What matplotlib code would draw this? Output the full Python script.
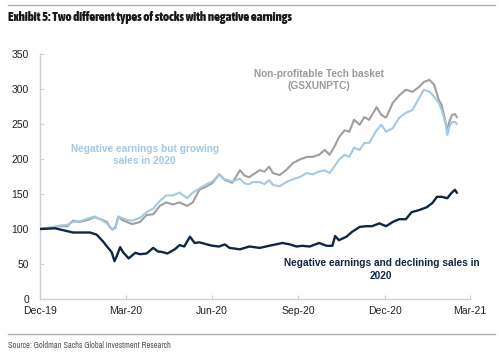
import matplotlib
matplotlib.use("Agg")
import matplotlib.pyplot as plt
import pandas as pd
from matplotlib import font_manager

# ---------------- data ----------------
common_dates = [
    "2019-12-31", "2020-01-11", "2020-01-21", "2020-01-29", "2020-02-04", "2020-02-11",
    "2020-02-20", "2020-02-27", "2020-03-06", "2020-03-11", "2020-03-14", "2020-03-17",
    "2020-03-20", "2020-03-23", "2020-03-27", "2020-04-01", "2020-04-07", "2020-04-15",
    "2020-04-22", "2020-04-29", "2020-05-06", "2020-05-13", "2020-05-20", "2020-05-27",
    "2020-06-04", "2020-06-10", "2020-06-17", "2020-06-25", "2020-07-01", "2020-07-08",
    "2020-07-14", "2020-07-22", "2020-07-30", "2020-08-04", "2020-08-09", "2020-08-12",
    "2020-08-20", "2020-08-25", "2020-08-30", "2020-09-03", "2020-09-10", "2020-09-17",
    "2020-09-24", "2020-10-01", "2020-10-09", "2020-10-15", "2020-10-22", "2020-10-28",
    "2020-11-02", "2020-11-07", "2020-11-12", "2020-11-18", "2020-11-23", "2020-11-28",
    "2020-12-04", "2020-12-09", "2020-12-14", "2020-12-22", "2020-12-27", "2021-01-01",
    "2021-01-08", "2021-01-15", "2021-01-22", "2021-01-29", "2021-02-05", "2021-02-10",
    "2021-02-16", "2021-02-21", "2021-02-26", "2021-03-01", "2021-03-05", "2021-03-07",
    "2021-03-09", "2021-03-12", "2021-03-15", "2021-03-17",
]
nonprofit_tech = [
    100, 102, 104, 104, 112, 110, 113, 117, 113, 110, 103, 99,
    103, 118, 113, 110, 107, 110, 120, 121, 133, 138, 135, 138,
    133, 138, 156, 161, 166, 178, 170, 166, 184, 176, 174, 177,
    184, 182, 189, 180, 177, 184, 194, 199, 203, 203, 206, 213,
    206, 217, 231, 241, 239, 256, 249, 260, 256, 274, 263, 259,
    280, 291, 299, 296, 303, 310, 313, 306, 284, 277, 253, 241,
    253, 263, 264, 260,
]
growing_sales = [
    100, 102, 105, 106, 110, 111, 115, 118, 112, 108, 103, 100,
    101, 117, 116, 113, 112, 116, 124, 129, 140, 148, 148, 152,
    144, 152, 158, 164, 168, 178, 171, 168, 172, 165, 164, 167,
    167, 164, 170, 163, 161, 167, 171, 174, 180, 178, 182, 184,
    180, 189, 199, 206, 203, 216, 213, 223, 223, 241, 249, 239,
    244, 259, 266, 270, 287, 299, 296, 289, 280, 270, 251, 234,
    246, 253, 253, 250,
]
declining_dates = [
    "2019-12-31", "2020-01-16", "2020-02-04", "2020-02-22", "2020-02-29", "2020-03-07",
    "2020-03-11", "2020-03-16", "2020-03-19", "2020-03-21", "2020-03-25", "2020-03-28",
    "2020-04-03", "2020-04-10", "2020-04-15", "2020-04-22", "2020-04-29", "2020-05-04",
    "2020-05-09", "2020-05-14", "2020-05-22", "2020-05-27", "2020-06-01", "2020-06-07",
    "2020-06-12", "2020-06-17", "2020-06-25", "2020-07-01", "2020-07-08", "2020-07-14",
    "2020-07-19", "2020-07-30", "2020-08-09", "2020-08-20", "2020-08-30", "2020-09-13",
    "2020-09-21", "2020-09-28", "2020-10-04", "2020-10-12", "2020-10-22", "2020-10-30",
    "2020-11-05", "2020-11-08", "2020-11-12", "2020-11-20", "2020-11-26", "2020-12-04",
    "2020-12-11", "2020-12-17", "2020-12-25", "2021-01-01", "2021-01-08", "2021-01-15",
    "2021-01-22", "2021-01-28", "2021-02-05", "2021-02-13", "2021-02-19", "2021-02-24",
    "2021-03-01", "2021-03-07", "2021-03-11", "2021-03-15", "2021-03-17",
]
declining_sales = [
    100, 101, 95, 95, 92, 82, 75, 67, 54, 60, 74, 67,
    58, 66, 64, 65, 73, 68, 67, 65, 71, 77, 75, 89,
    80, 81, 78, 76, 75, 78, 73, 71, 75, 73, 76, 80,
    78, 75, 76, 75, 80, 76, 76, 90, 84, 89, 96, 103,
    104, 104, 108, 104, 110, 114, 114, 124, 127, 131, 137, 146,
    146, 144, 151, 156, 152,
]
tick_dates = ["2019-12-31", "2020-03-31", "2020-06-30", "2020-09-30", "2020-12-31", "2021-03-31"]
tick_labels = ["Dec-19", "Mar-20", "Jun-20", "Sep-20", "Dec-20", "Mar-21"]
y_ticks = [0, 50, 100, 150, 200, 250, 300, 350]

title = "Exhibit 5: Two different types of stocks with negative earnings"
source = "Source: Goldman Sachs Global Investment Research"

# ---------------- fonts ----------------
base = "Liberation Sans"
plt.rcParams["font.family"] = [base, "DejaVu Sans"]


def _w(f):
    w = f.weight
    if isinstance(w, str):
        return {"bold": 700, "heavy": 800, "black": 900, "semibold": 600,
                "demibold": 600, "normal": 400, "regular": 400}.get(w, 400)
    return int(w)


narrow_fonts = [f for f in font_manager.fontManager.ttflist
                if ("Narrow" in f.name or "Condensed" in f.name)]
narrow_reg = narrow_fonts[0].name if narrow_fonts else None
bold_candidates = [f for f in narrow_fonts if _w(f) >= 600 and f.style == "normal"]
if bold_candidates:
    title_font = font_manager.FontProperties(fname=bold_candidates[0].fname,
                                             size=9.2)
else:
    title_font = font_manager.FontProperties(family=[base, "DejaVu Sans"],
                                             weight="bold", size=7.5)
if narrow_reg:
    source_font = dict(family=[narrow_reg, "DejaVu Sans"], fontsize=6.0)
else:
    source_font = dict(family=[base, "DejaVu Sans"], fontsize=5.2)

GRAY = "#a39d9b"
LBLUE = "#a3c9e4"
NAVY = "#0f2744"
AXC = "#d0d0d0"

fig = plt.figure(figsize=(4.99, 3.59), dpi=100)
ax = fig.add_axes([40 / 499, 60 / 359, 430 / 499, 245 / 359])

cd = pd.to_datetime(common_dates)
dd = pd.to_datetime(declining_dates)
ax.plot(cd, nonprofit_tech, color=GRAY, lw=1.5, zorder=2)
ax.plot(cd, growing_sales, color=LBLUE, lw=1.5, zorder=3)
ax.plot(dd, declining_sales, color=NAVY, lw=1.7, zorder=4)

td = pd.to_datetime(tick_dates)
ax.set_xlim(td[0], td[-1])
ax.set_ylim(0, 350)
ax.set_xticks(td)
ax.set_xticklabels(tick_labels)
ax.set_yticks(y_ticks)

for s in ["top", "right"]:
    ax.spines[s].set_visible(False)
for s in ["left", "bottom"]:
    ax.spines[s].set_color(AXC)
    ax.spines[s].set_linewidth(1.0)
ax.tick_params(axis="both", colors=AXC, labelcolor="#222222", labelsize=7.5,
               length=3, width=0.8)
ax.tick_params(axis="x", direction="in", pad=5)
ax.tick_params(axis="y", direction="in", pad=8)

ax.text(pd.Timestamp("2020-10-22"), 313, "Non-profitable Tech basket\n(GSXUNPTC)",
        color="#9a9a9a", fontsize=7.3, fontweight="bold", ha="center", va="center",
        linespacing=1.3)
ax.text(pd.Timestamp("2020-04-20"), 206, "Negative earnings but growing\nsales in 2020",
        color=LBLUE, fontsize=7.3, fontweight="bold", ha="center", va="center",
        linespacing=1.3)
ax.text(pd.Timestamp("2020-12-27"), 42, "Negative earnings and declining sales in\n2020",
        color=NAVY, fontsize=7.3, fontweight="bold", ha="center", va="center",
        linespacing=1.3)

# header / footer
fig.add_artist(plt.Line2D([8 / 499, 495 / 499], [1 - 5 / 359, 1 - 5 / 359],
                          color="#b0b0b0", lw=1.0))
fig.add_artist(plt.Line2D([8 / 499, 495 / 499], [1 - 334 / 359, 1 - 334 / 359],
                          color="#b0b0b0", lw=1.0))
fig.text(8 / 499, 1 - 18 / 359, title, fontproperties=title_font,
         color="#1a1a1a", ha="left", va="center")
fig.text(8 / 499, 1 - 345 / 359, source, color="#555555", ha="left", va="center",
         **source_font)

fig.savefig("out.png", dpi=100, facecolor="white")
